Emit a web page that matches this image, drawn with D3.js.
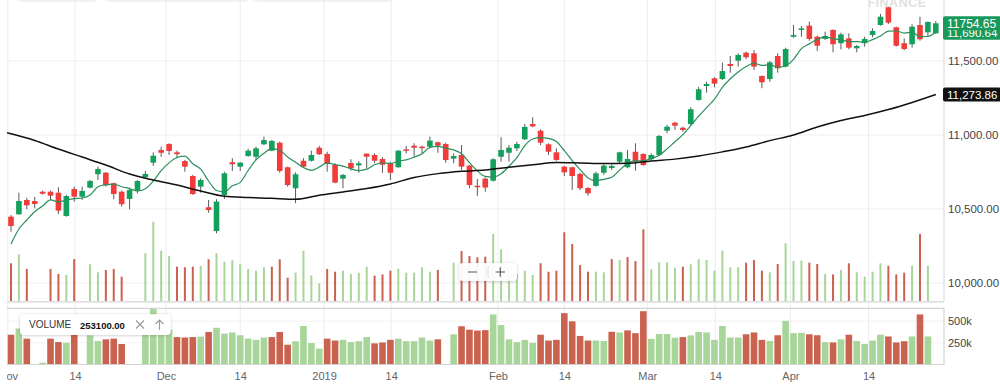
<!DOCTYPE html>
<html>
<head>
<meta charset="utf-8">
<script src="https://d3js.org/d3.v7.min.js"></script>
<style>
  body { margin: 0; background: #fff; }
  svg { display: block; font-family: "Liberation Sans", Arial, sans-serif; }
</style>
</head>
<body>
<script>
var w = 1000, h = 392

// daily candles, oldest first (118 sessions, Nov -> Apr)
var opens = [10448,10464,10561,10554,10617,10617,10610,10453,10635,10583,10644,10735,10745,10674,10617,10568,10622,10714,10813,10899,
  10939,10883,10824,10723,10651,10512,10351,10595,10816,10786,10858,10853,10937,10894,10948,10782,10640,10826,10826,10914,
  10872,10797,10705,10811,10795,10874,10865,10838,10809,10782,10903,10928,10921,10921,10951,10939,10840,10865,10793,10657,
  10705,10691,10853,10880,10910,10971,11074,11029,10937,10883,10786,10782,10737,10642,10656,10745,10777,10820,10782,10887,
  10872,10836,10865,11029,11083,11049,11074,11237,11331,11383,11378,11480,11502,11556,11552,11399,11378,11534,11462,11664,
  11710,11739,11664,11649,11710,11620,11653,11586,11620,11676,11743,11863,11728,11620,11613,11743,11694,11687]
var highs = [10459,10610,10576,10581,10624,10624,10647,10595,10651,10651,10696,10786,10750,10678,10624,10644,10696,10757,10883,10921,
  10944,10894,10831,10730,10707,10561,10566,10752,10843,10816,10906,10921,10989,10966,10955,10786,10748,10843,10894,10926,
  10887,10809,10737,10836,10824,10876,10876,10849,10820,10899,10926,10944,10928,10989,10955,10948,10876,10932,10797,10703,
  10714,10843,10985,10932,10955,11074,11120,11039,10944,10910,10791,10786,10745,10647,10752,10802,10802,10887,10899,10944,
  10876,10876,11000,11068,11090,11056,11187,11326,11360,11390,11489,11534,11552,11563,11574,11401,11500,11552,11590,11743,
  11737,11766,11671,11698,11714,11691,11687,11608,11664,11721,11818,11867,11732,11653,11748,11799,11766,11770]
var lows = [10347,10462,10498,10505,10597,10561,10466,10448,10550,10561,10640,10696,10651,10566,10516,10498,10606,10712,10791,10853,
  10865,10843,10752,10595,10610,10475,10336,10568,10757,10757,10853,10831,10932,10890,10745,10651,10539,10782,10820,10865,
  10752,10674,10640,10759,10745,10775,10809,10745,10696,10779,10876,10853,10876,10910,10880,10813,10809,10764,10640,10588,
  10617,10685,10820,10820,10892,10966,11052,10932,10865,10826,10723,10628,10628,10590,10651,10730,10764,10809,10775,10759,
  10791,10826,10858,11012,11034,11022,11068,11232,11286,11322,11372,11421,11462,11512,11439,11316,11360,11421,11457,11657,
  11664,11637,11568,11642,11559,11579,11579,11559,11597,11660,11739,11750,11597,11574,11590,11637,11664,11685]
var closes = [10385,10554,10525,10534,10603,10590,10489,10588,10583,10622,10689,10770,10660,10601,10532,10628,10689,10737,10860,10880,
  10892,10870,10786,10601,10696,10493,10550,10741,10802,10813,10894,10910,10966,10960,10757,10662,10735,10786,10865,10870,
  10804,10678,10730,10775,10809,10853,10826,10799,10745,10894,10897,10914,10917,10962,10928,10831,10858,10786,10662,10650,
  10645,10836,10899,10914,10939,11055,11058,10948,10887,10831,10748,10723,10640,10606,10741,10793,10791,10883,10838,10820,
  10797,10865,10993,11056,11063,11034,11174,11309,11345,11347,11432,11466,11541,11525,11462,11356,11491,11451,11581,11676,
  11721,11649,11603,11669,11613,11680,11590,11601,11649,11703,11799,11759,11603,11581,11732,11647,11764,11754.65]
// volume in thousands
var volumes = [343,415,298,0,21,298,258,250,377,0,335,271,290,298,236,0,0,423,675,444,
  401,316,311,316,321,375,423,356,369,337,298,284,311,316,375,228,268,444,247,183,
  298,276,284,258,268,316,244,254,284,298,268,268,311,276,290,0,348,441,401,391,
  396,577,455,290,258,284,250,343,276,284,591,497,329,276,276,271,377,369,393,361,
  614,295,351,351,308,316,335,375,369,284,444,311,311,348,369,284,271,337,503,361,
  365,348,337,258,254,290,343,271,236,276,343,323,254,268,323,577,323,0]
// the four closes before the window, they feed the 5 day average
var priorCloses = [10047, 10221, 10254, 10411]

// long moving average
var longMaDay = [-1,0,3,6,9,12,15,18,21,24,27,30,33,36,39,42,45,48,51,54,57,60,63,66,69,72,75,78,81,84,87,90,93,96,99,102,105,108,111,114,117]
var longMa = [11021,11008,10963,10905,10851,10797,10736,10696,10662,10622,10586,10578,10572,10566,10593,10615,10638,10669,10713,10739,10755,
  10764,10782,10799,10814,10811,10807,10809,10825,10837,10858,10886,10919,10962,11000,11054,11098,11132,11172,11220,11273.86]

var tickPos = [-0.4, 8.1, 19.6, 29, 39.6, 48.1, 61.6, 70, 80.5, 89.1, 98.6, 108.5]
var tickLabels = ["Nov", "14", "Dec", "14", "2019", "14", "Feb", "14", "Mar", "14", "Apr", "14"]
var priceTicks = [10000, 10500, 11000, 11500]
var volTicks = [250, 500]
var tagValues = [11273.86, 11690.64, 11754.65]
var tagTexts = ["11,273.86", "11,690.64", "11754.65"]
var volumeLabel = ["VOLUME", "253100.00"]

var green = "#12a05c", red = "#f23b3b"
var volGreen = "#a8d59a", volRed = "#c9624f"

var left = 7, right = 944, mainBottom = 301.7, lowTop = 308.3, lowBottom = 364.5

var svg = d3.select('body').append('svg')
svg.attr('width', w).attr('height', h)

var defs = svg.append("defs")
defs.append("clipPath").attr("id", "clipMain").append("rect")
    .attr("x", left).attr("y", 0).attr("width", right - left).attr("height", mainBottom)
defs.append("clipPath").attr("id", "clipLow").append("rect")
    .attr("x", left).attr("y", lowTop).attr("width", right - left).attr("height", lowBottom - lowTop)
// axis group is translated, so this rect is in its local coordinates
defs.append("clipPath").attr("id", "clipAxis").append("rect")
    .attr("x", left).attr("y", 0).attr("width", right - left).attr("height", 28)
var sh = defs.append("filter").attr("id", "shadow").attr("x", -0.2).attr("y", -0.5).attr("width", 1.4).attr("height", 2)
sh.append("feDropShadow").attr("dx", 0).attr("dy", 0.5).attr("stdDeviation", 1.6)
    .attr("flood-color", "#000").attr("flood-opacity", 0.22)
defs.append("filter").attr("id", "blur").append("feGaussianBlur").attr("stdDeviation", 1.8)

var x = d3.scaleLinear().domain([0, 117]).range([11, 935.8])
var y = d3.scaleLinear().domain([10000, 11500]).range([283, 61])
var yVolTop = d3.scaleLinear().domain([0, 600]).range([306.25, 231.1])
var yVolLow = d3.scaleLinear().domain([0, 500]).range([364.5, 321.1])

// faint header shadow at top
svg.append("g").attr("filter", "url(#blur)")
    .selectAll("rect").data([[17, 97], [105, 248], [253, 392]]).enter().append("rect")
    .attr("x", d => d[0]).attr("y", -9).attr("width", d => d[1] - d[0]).attr("height", 10)
    .attr("rx", 4).attr("fill", "#e4e4e4")
svg.append("text").attr("x", 897).attr("y", 6.5).attr("text-anchor", "middle")
    .attr("font-size", 12.5).attr("font-weight", "bold").attr("fill", "#e2e2e2")
    .attr("letter-spacing", 0.5).text("FINANCE")

// grid
svg.append("g").selectAll("line").data(priceTicks).enter().append("line")
    .attr("x1", left).attr("x2", right).attr("y1", d => y(d)).attr("y2", d => y(d))
    .attr("stroke", "#efefef")
svg.append("g").selectAll("line").data(volTicks).enter().append("line")
    .attr("x1", left).attr("x2", right).attr("y1", d => yVolLow(d)).attr("y2", d => yVolLow(d))
    .attr("stroke", "#f2f2f2")
svg.append("g").selectAll("line").data(tickPos.filter(d => x(d) > left)).enter().append("line")
    .attr("x1", d => x(d)).attr("x2", d => x(d)).attr("y1", 0).attr("y2", lowBottom)
    .attr("stroke", "#ececec")

var upColor = function (i) {
    var prev = i == 0 ? priorCloses[priorCloses.length - 1] : closes[i - 1]
    return closes[i] >= prev
}

// volume overlay in the price panel
var main = svg.append("g").attr("clip-path", "url(#clipMain)")
main.selectAll(".vtop").data(volumes).enter().append("rect")
    .attr("x", (d, i) => x(i) - 1)
    .attr("y", d => Math.min(yVolTop(d), mainBottom))
    .attr("width", 2)
    .attr("height", d => Math.max(0, mainBottom - yVolTop(d)))
    .attr("fill", (d, i) => upColor(i) ? volGreen : volRed)

// candles
var candles = main.selectAll(".candle").data(closes).enter().append("g")
candles.append("line")
    .attr("x1", (d, i) => x(i)).attr("x2", (d, i) => x(i))
    .attr("y1", (d, i) => y(highs[i])).attr("y2", (d, i) => y(lows[i]))
    .attr("stroke", "#5a5a5a").attr("stroke-width", 1)
candles.append("rect")
    .attr("x", (d, i) => x(i) - 2.8)
    .attr("y", (d, i) => y(Math.max(opens[i], d)))
    .attr("width", 5.6)
    .attr("height", (d, i) => Math.max(1.5, Math.abs(y(opens[i]) - y(d))))
    .attr("fill", (d, i) => d >= opens[i] ? green : red)

// moving averages
var allCloses = priorCloses.concat(closes)
var ma5 = closes.map((d, i) => d3.mean(allCloses.slice(i, i + 5)))
main.append("path").datum(ma5)
    .attr("d", d3.line().x((d, i) => x(i)).y(d => y(d)).curve(d3.curveMonotoneX))
    .attr("fill", "none").attr("stroke", "#2b8f5b").attr("stroke-width", 1.2)
main.append("path").datum(longMa)
    .attr("d", d3.line().x((d, i) => x(longMaDay[i])).y(d => y(d)).curve(d3.curveMonotoneX))
    .attr("fill", "none").attr("stroke", "#111").attr("stroke-width", 1.5)

// panel frames
svg.append("line").attr("x1", left).attr("x2", right).attr("y1", mainBottom).attr("y2", mainBottom)
    .attr("stroke", "#dcdcdc").attr("stroke-width", 1.5)
svg.append("line").attr("x1", right).attr("x2", right).attr("y1", 0).attr("y2", mainBottom)
    .attr("stroke", "#d6d6d6")

// lower volume panel
var low = svg.append("g").attr("clip-path", "url(#clipLow)")
low.selectAll("rect").data(volumes).enter().append("rect")
    .attr("x", (d, i) => x(i) - 3.3)
    .attr("y", d => yVolLow(d))
    .attr("width", 6.6)
    .attr("height", d => lowBottom - yVolLow(d))
    .attr("fill", (d, i) => upColor(i) ? volGreen : volRed)
svg.append("path")
    .attr("d", "M" + left + "," + lowTop + "H" + right + "V" + lowBottom + "H" + left)
    .attr("fill", "none").attr("stroke", "#d4d4d4").attr("stroke-width", 1.2)

// axes
var xAxis = svg.append("g").attr("clip-path", "url(#clipAxis)")
    .attr("transform", "translate(0," + lowBottom + ")")
    .call(d3.axisBottom(x).tickValues(tickPos).tickFormat((d, i) => tickLabels[i]).tickSize(0))
xAxis.select(".domain").remove()
xAxis.selectAll("text").attr("y", 8).attr("font-size", 11).attr("fill", "#666")
    .attr("font-family", "Liberation Sans, Arial, sans-serif")

var yAxis = svg.append("g").attr("transform", "translate(" + right + ",0)")
    .call(d3.axisRight(y).tickValues(priceTicks).tickFormat(d3.format(",.2f")).tickSize(0).tickPadding(4))
yAxis.select(".domain").remove()
yAxis.selectAll("text").attr("font-size", 11.5).attr("fill", "#444")
    .attr("font-family", "Liberation Sans, Arial, sans-serif")

var vAxis = svg.append("g").attr("transform", "translate(" + right + ",0)")
    .call(d3.axisRight(yVolLow).tickValues(volTicks).tickFormat(d => d + "k").tickSize(0).tickPadding(4))
vAxis.select(".domain").remove()
vAxis.selectAll("text").attr("font-size", 11).attr("fill", "#444")
    .attr("font-family", "Liberation Sans, Arial, sans-serif")

// value tags on the right
var tagFill = ["#111", "#17995b", "#17995b"]
var tags = svg.append("g").selectAll("g").data(tagValues).enter().append("g")
    .attr("transform", d => "translate(" + (right - 1) + "," + y(d) + ")")
tags.append("rect").attr("x", 0).attr("y", -7).attr("width", 58).attr("height", 14)
    .attr("rx", 2).attr("fill", (d, i) => tagFill[i])
tags.append("text").attr("x", 4).attr("y", 4.3).attr("fill", "#fff")
    .attr("font-size", (d, i) => i == 2 ? 12 : 11.5).text((d, i) => tagTexts[i])

// volume legend box
var vb = svg.append("g")
vb.append("rect").attr("x", 20).attr("y", 314.3).attr("width", 150.7).attr("height", 20.7)
    .attr("rx", 4).attr("fill", "#fff").attr("filter", "url(#shadow)")
vb.append("text").attr("x", 29).attr("y", 328.2).attr("font-size", 10).attr("fill", "#333").text(volumeLabel[0])
vb.append("text").attr("x", 80).attr("y", 328.6).attr("font-size", 9.5).attr("font-weight", "bold")
    .attr("fill", "#111").text(volumeLabel[1])
vb.append("path").attr("d", "M136,320.5L144,328.5M136,328.5L144,320.5")
    .attr("stroke", "#9a9a9a").attr("stroke-width", 1.1).attr("fill", "none")
vb.append("path").attr("d", "M159.5,330V320M155.5,324L159.5,320L163.5,324")
    .attr("stroke", "#9a9a9a").attr("stroke-width", 1.1).attr("fill", "none")

// zoom buttons
var zb = svg.append("g")
zb.append("rect").attr("x", 459).attr("y", 263).attr("width", 58).attr("height", 18)
    .attr("rx", 4).attr("fill", "#fff").attr("fill-opacity", 0.92).attr("filter", "url(#shadow)")
zb.append("line").attr("x1", 488).attr("x2", 488).attr("y1", 266).attr("y2", 278).attr("stroke", "#ddd")
zb.append("path").attr("d", "M468,272H477M495.5,272H505M500.25,267.25V276.75")
    .attr("stroke", "#555").attr("stroke-width", 1.1).attr("fill", "none")
</script>
</body>
</html>
